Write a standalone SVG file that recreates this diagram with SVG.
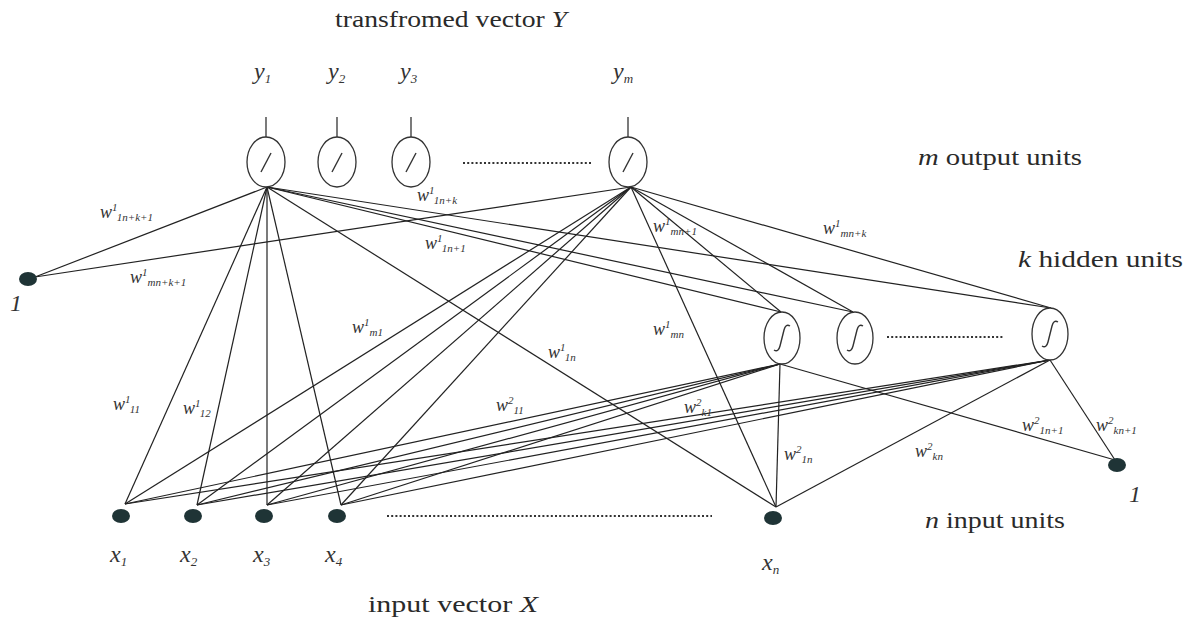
<svg xmlns="http://www.w3.org/2000/svg" width="1196" height="623" viewBox="0 0 1196 623">
<style>
.ln{stroke:#222;stroke-width:1.2;fill:none}
.dots{stroke:#333;stroke-width:2.2;stroke-dasharray:2 2.2;fill:none}
.node{fill:#fff;stroke:#333;stroke-width:1.3}
.mark{stroke:#333;stroke-width:1.4;fill:none}
.in{fill:#1f3436}
.lbl{font-family:"Liberation Serif","Times New Roman",serif;fill:#2a2a2a}
.big{font-size:24px}
.it{font-style:italic}
.var{font-family:"Liberation Serif","Times New Roman",serif;font-style:italic;font-size:24px;fill:#333}
.vs{font-size:13px}
.w{font-family:"Liberation Serif","Times New Roman",serif;font-style:italic;font-size:18px;fill:#333}
.s{font-size:11px}
</style>
<rect width="1196" height="623" fill="#fff"/>

<g id="connectors">
<line class="ln" x1="267" y1="187" x2="35" y2="277"/>
<line class="ln" x1="267" y1="187" x2="125" y2="504"/>
<line class="ln" x1="267" y1="187" x2="197" y2="505"/>
<line class="ln" x1="267" y1="187" x2="267" y2="505"/>
<line class="ln" x1="267" y1="187" x2="341" y2="505"/>
<line class="ln" x1="267" y1="187" x2="776" y2="507"/>
<line class="ln" x1="267" y1="187" x2="781" y2="312"/>
<line class="ln" x1="267" y1="187" x2="853" y2="312"/>
<line class="ln" x1="267" y1="187" x2="1051" y2="308"/>
<line class="ln" x1="631" y1="187" x2="35" y2="277"/>
<line class="ln" x1="631" y1="187" x2="125" y2="504"/>
<line class="ln" x1="631" y1="187" x2="197" y2="505"/>
<line class="ln" x1="631" y1="187" x2="267" y2="505"/>
<line class="ln" x1="631" y1="187" x2="341" y2="505"/>
<line class="ln" x1="631" y1="187" x2="776" y2="507"/>
<line class="ln" x1="631" y1="187" x2="781" y2="312"/>
<line class="ln" x1="631" y1="187" x2="853" y2="312"/>
<line class="ln" x1="631" y1="187" x2="1051" y2="308"/>
<line class="ln" x1="780" y1="364" x2="125" y2="504"/>
<line class="ln" x1="780" y1="364" x2="197" y2="505"/>
<line class="ln" x1="780" y1="364" x2="267" y2="505"/>
<line class="ln" x1="780" y1="364" x2="341" y2="505"/>
<line class="ln" x1="780" y1="364" x2="776" y2="507"/>
<line class="ln" x1="780" y1="364" x2="1115" y2="460"/>
<line class="ln" x1="1050" y1="360" x2="125" y2="504"/>
<line class="ln" x1="1050" y1="360" x2="197" y2="505"/>
<line class="ln" x1="1050" y1="360" x2="267" y2="505"/>
<line class="ln" x1="1050" y1="360" x2="341" y2="505"/>
<line class="ln" x1="1050" y1="360" x2="776" y2="507"/>
<line class="ln" x1="1050" y1="360" x2="1115" y2="460"/>
</g>

<g id="output-units">
<g id="y1"><line class="ln" x1="266" y1="117" x2="266" y2="137"/><ellipse class="node" cx="266" cy="162" rx="19" ry="25"/><line class="mark" x1="261" y1="172" x2="271" y2="153"/></g>
<g id="y2"><line class="ln" x1="337" y1="117" x2="337" y2="137"/><ellipse class="node" cx="337" cy="162" rx="19" ry="25"/><line class="mark" x1="332" y1="172" x2="342" y2="153"/></g>
<g id="y3"><line class="ln" x1="411" y1="117" x2="411" y2="137"/><ellipse class="node" cx="411" cy="162" rx="19" ry="25"/><line class="mark" x1="406" y1="172" x2="416" y2="153"/></g>
<g id="ym"><line class="ln" x1="628" y1="117" x2="628" y2="137"/><ellipse class="node" cx="628" cy="162" rx="19" ry="25"/><line class="mark" x1="623" y1="172" x2="633" y2="153"/></g>
<line class="dots" x1="463" y1="163" x2="592" y2="163"/>
</g>

<g id="hidden-units">
<g id="h1"><ellipse class="node" cx="782" cy="338" rx="18" ry="26"/><path class="mark" d="M774 350 C777 352 779 350 780 346 L784 330 C785 326 787 324 790 326"/></g>
<g id="h2"><ellipse class="node" cx="855" cy="338" rx="18" ry="26"/><path class="mark" d="M847 350 C850 352 852 350 853 346 L857 330 C858 326 860 324 863 326"/></g>
<g id="hk"><ellipse class="node" cx="1050" cy="334" rx="18" ry="26"/><path class="mark" d="M1042 346 C1045 348 1047 346 1048 342 L1052 326 C1053 322 1055 320 1058 322"/></g>
<line class="dots" x1="887" y1="337" x2="1003" y2="337"/>
</g>

<g id="input-units">
<g id="x1"><ellipse class="in" cx="121" cy="516" rx="9" ry="7"/></g>
<g id="x2"><ellipse class="in" cx="193" cy="516" rx="9" ry="7"/></g>
<g id="x3"><ellipse class="in" cx="264" cy="516" rx="9" ry="7"/></g>
<g id="x4"><ellipse class="in" cx="337" cy="516" rx="9" ry="7"/></g>
<g id="xn"><ellipse class="in" cx="773" cy="518" rx="9" ry="7"/></g>
<line class="dots" x1="387" y1="516" x2="712" y2="516"/>
</g>

<g id="bias-left"><ellipse class="in" cx="28" cy="279" rx="9" ry="7"/><text class="var" x="10" y="311" font-size="22">1</text></g>
<g id="bias-right"><ellipse class="in" cx="1117" cy="465" rx="9" ry="7"/><text class="var" x="1129" y="502" font-size="22">1</text></g>

<g id="labels">
<text class="lbl big" x="335" y="27" textLength="232" lengthAdjust="spacingAndGlyphs">transfromed vector <tspan class="it">Y</tspan></text>
<text class="var" x="254" y="79">y<tspan class="vs" dy="4">1</tspan></text>
<text class="var" x="328" y="79">y<tspan class="vs" dy="4">2</tspan></text>
<text class="var" x="400" y="79">y<tspan class="vs" dy="4">3</tspan></text>
<text class="var" x="613" y="79">y<tspan class="vs" dy="4">m</tspan></text>
<text class="lbl big" x="918" y="165" textLength="164" lengthAdjust="spacingAndGlyphs"><tspan class="it">m</tspan> output units</text>
<text class="lbl big" x="1018" y="267" textLength="165" lengthAdjust="spacingAndGlyphs"><tspan class="it">k</tspan> hidden units</text>
<text class="lbl big" x="925" y="528" textLength="140" lengthAdjust="spacingAndGlyphs"><tspan class="it">n</tspan> input units</text>
<text class="lbl big" x="368" y="612" textLength="170" lengthAdjust="spacingAndGlyphs">input vector <tspan class="it">X</tspan></text>
<text class="var" x="110" y="562">x<tspan class="vs" dy="4">1</tspan></text>
<text class="var" x="180" y="562">x<tspan class="vs" dy="4">2</tspan></text>
<text class="var" x="253" y="562">x<tspan class="vs" dy="4">3</tspan></text>
<text class="var" x="325" y="562">x<tspan class="vs" dy="4">4</tspan></text>
<text class="var" x="762" y="570">x<tspan class="vs" dy="4">n</tspan></text>
</g>

<g id="weights">
<text class="w" x="100" y="218">w<tspan class="s" dy="-7">1</tspan><tspan class="s" dy="10">1n+k+1</tspan></text>
<text class="w" x="130" y="283">w<tspan class="s" dy="-7">1</tspan><tspan class="s" dy="10">mn+k+1</tspan></text>
<text class="w" x="417" y="201">w<tspan class="s" dy="-7">1</tspan><tspan class="s" dy="10">1n+k</tspan></text>
<text class="w" x="425" y="249">w<tspan class="s" dy="-7">1</tspan><tspan class="s" dy="10">1n+1</tspan></text>
<text class="w" x="653" y="232">w<tspan class="s" dy="-7">1</tspan><tspan class="s" dy="10">mn+1</tspan></text>
<text class="w" x="823" y="234">w<tspan class="s" dy="-7">1</tspan><tspan class="s" dy="10">mn+k</tspan></text>
<text class="w" x="653" y="335">w<tspan class="s" dy="-7">1</tspan><tspan class="s" dy="10">mn</tspan></text>
<text class="w" x="548" y="358">w<tspan class="s" dy="-7">1</tspan><tspan class="s" dy="10">1n</tspan></text>
<text class="w" x="352" y="333">w<tspan class="s" dy="-7">1</tspan><tspan class="s" dy="10">m1</tspan></text>
<text class="w" x="113" y="410">w<tspan class="s" dy="-7">1</tspan><tspan class="s" dy="10">11</tspan></text>
<text class="w" x="183" y="414">w<tspan class="s" dy="-7">1</tspan><tspan class="s" dy="10">12</tspan></text>
<text class="w" x="496" y="411">w<tspan class="s" dy="-7">2</tspan><tspan class="s" dy="10">11</tspan></text>
<text class="w" x="684" y="413">w<tspan class="s" dy="-7">2</tspan><tspan class="s" dy="10">k1</tspan></text>
<text class="w" x="784" y="460">w<tspan class="s" dy="-7">2</tspan><tspan class="s" dy="10">1n</tspan></text>
<text class="w" x="915" y="457">w<tspan class="s" dy="-7">2</tspan><tspan class="s" dy="10">kn</tspan></text>
<text class="w" x="1022" y="431">w<tspan class="s" dy="-7">2</tspan><tspan class="s" dy="10">1n+1</tspan></text>
<text class="w" x="1096" y="431">w<tspan class="s" dy="-7">2</tspan><tspan class="s" dy="10">kn+1</tspan></text>
</g>
</svg>
